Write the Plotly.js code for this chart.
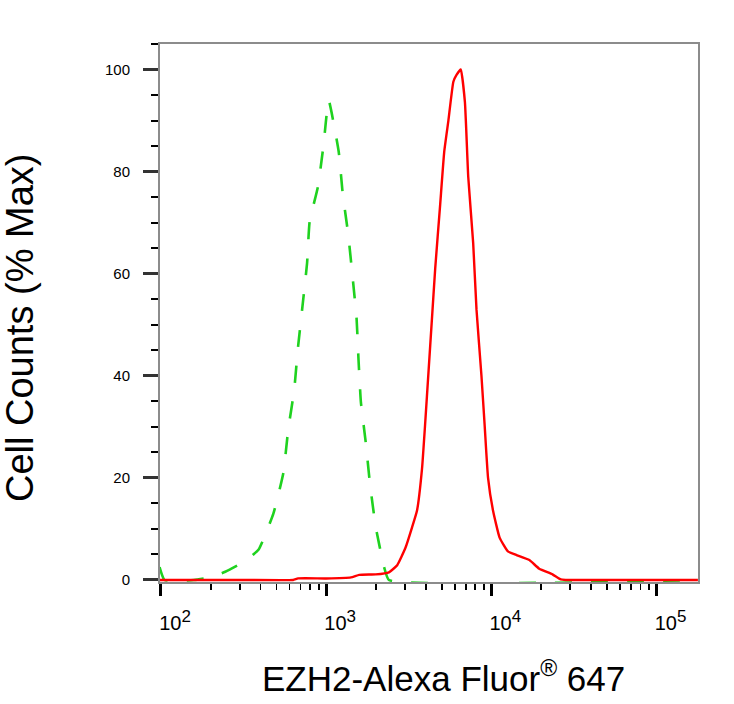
<!DOCTYPE html>
<html>
<head>
<meta charset="utf-8">
<script src="https://cdn.plot.ly/plotly-3.0.1.min.js"></script>
<style>html,body{margin:0;padding:0;background:#fff;}#chart{width:734px;height:704px;}</style>
</head>
<body>
<div id="chart"></div>
<script>
// Red (stained) histogram: fluorescence intensity and % max
var redX = [98, 316, 631, 676, 1000, 1413, 1585, 1995, 2399, 2692, 3020, 3311, 3548, 3802, 3981, 4169, 4365, 4571, 4898, 5188, 5495, 5888, 6166, 6531, 6918, 7244, 7762, 8128, 8710, 9120, 9550, 10233, 11220, 12589, 14125, 16982, 19498, 23442, 26303, 28184, 178000];
var redY = [0, 0, 0, 0.3, 0.3, 0.5, 1.0, 1.1, 1.5, 2.9, 6.3, 10.3, 13.6, 21.7, 31, 41, 51, 61, 73.5, 84, 90, 97.6, 99, 100, 93.6, 79, 66, 53, 40, 30, 20, 13.6, 8.3, 5.6, 4.9, 3.9, 2.2, 1.1, 0.1, 0, 0];
// Green (isotype control) histogram
var greenX = [98, 105, 158, 200, 245, 316, 389, 479, 550, 589, 640, 676, 718, 766, 794, 891, 964, 1035, 1191, 1259, 1361, 1445, 1528, 1570, 1622, 1738, 1845, 1995, 2239, 2399, 178000];
var greenY = [2.5, 0, 0, 0.5, 1.6, 3.5, 5.9, 13, 20.9, 29.4, 37.2, 45.7, 53.5, 62, 70.2, 77, 85.2, 94, 83.9, 75.7, 67.6, 59.4, 51.2, 43.1, 34.9, 26.8, 18.6, 10.4, 2.6, 0, 0];
// Axis ticks
var xTickVals = [100, 1000, 10000, 100000];
var xTickText = ['10<sup><span style="font-size:17px">2</span></sup>', '10<sup><span style="font-size:17px">3</span></sup>', '10<sup><span style="font-size:17px">4</span></sup>', '10<sup><span style="font-size:17px">5</span></sup>'];
var xMinorVals = [200,300,400,500,600,700,800,900,2000,3000,4000,5000,6000,7000,8000,9000,20000,30000,40000,50000,60000,70000,80000,90000,200000];
var yTickVals = [0, 20, 40, 60, 80, 100];
var yMinorVals = [5,10,15,25,30,35,45,50,55,65,70,75,85,90,95,105];
var xTitle = 'EZH2-Alexa Fluor<sup><span style="font-size:23px">®</span></sup> 647';
var yTitle = 'Cell Counts (% Max)';

var traces = [
  {x: greenX, y: greenY, type: 'scatter', mode: 'lines', line: {color: '#1fd21f', width: 2.6, dash: '17px,19px', shape: 'spline', smoothing: 0.4}, hoverinfo: 'none'},
  {x: redX, y: redY, type: 'scatter', mode: 'lines', line: {color: '#ff0000', width: 2.4, shape: 'spline', smoothing: 0.4}, hoverinfo: 'none'}
];

var layout = {
  width: 734, height: 704,
  margin: {l: 160, r: 36, t: 44, b: 122},
  paper_bgcolor: '#fff', plot_bgcolor: '#fff',
  showlegend: false,
  font: {family: '"Liberation Sans", Arial, sans-serif', color: '#000'},
  xaxis: {
    type: 'log', range: [1.994, 5.251],
    showline: true, linecolor: '#8c8c8c', linewidth: 2, mirror: true,
    showgrid: false, zeroline: false,
    tickmode: 'array', tickvals: xTickVals, ticktext: xTickText,
    ticks: 'outside', ticklen: 12, tickwidth: 3, tickcolor: '#000',
    tickfont: {size: 20, color: '#000'},
    ticklabelstandoff: 10,
    ticklabelshift: 14,
    minor: {tickmode: 'array', tickvals: xMinorVals, ticks: 'outside', ticklen: 6, tickwidth: 1.8, tickcolor: '#000', showgrid: false}
  },
  yaxis: {
    range: [-0.4, 105],
    showline: true, linecolor: '#8c8c8c', linewidth: 2, mirror: true,
    showgrid: false, zeroline: false,
    tickmode: 'array', tickvals: yTickVals,
    ticks: 'outside', ticklen: 15, tickwidth: 3, tickcolor: '#333',
    tickfont: {size: 15, color: '#000'},
    ticklabelstandoff: 10,
    minor: {tickmode: 'array', tickvals: yMinorVals, ticks: 'outside', ticklen: 7, tickwidth: 2, tickcolor: '#000', showgrid: false}
  },
  annotations: [
    {text: xTitle, xref: 'paper', yref: 'paper', x: (443 - 160) / 538, y: -(676 - 582) / 538, xanchor: 'center', yanchor: 'middle', showarrow: false, font: {size: 35, color: '#000'}},
    {text: yTitle, xref: 'paper', yref: 'paper', x: -(160 - 20) / 538, y: (582 - 328) / 538, xanchor: 'center', yanchor: 'middle', textangle: -90, showarrow: false, font: {size: 38, color: '#000'}}
  ]
};

Plotly.newPlot('chart', traces, layout, {staticPlot: true, displayModeBar: false});
</script>
</body>
</html>
